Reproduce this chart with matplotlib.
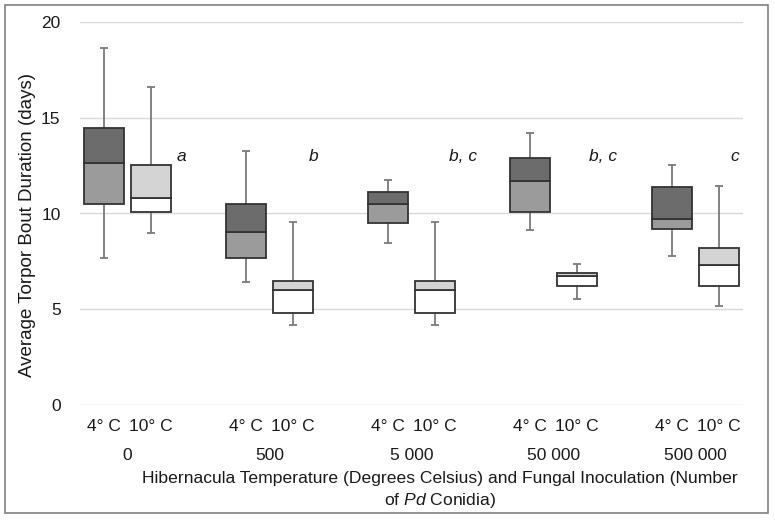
import matplotlib.pyplot as plt
from matplotlib.patches import Rectangle
import matplotlib.transforms as mtransforms

plt.rcParams["font.family"] = ["Liberation Sans", "DejaVu Sans"]
plt.rcParams["mathtext.fontset"] = "custom"
plt.rcParams["mathtext.rm"] = "Liberation Sans"
plt.rcParams["mathtext.it"] = "Liberation Sans:italic"

groups = ["0", "500", "5 000", "50 000", "500 000"]
temps = ["4° C", "10° C"]
letters = ["a", "b", "b, c", "b, c", "c"]

# five-number summaries per group: (whisker low, Q1, median, Q3, whisker high)
cold_4c = [
    (7.67, 10.48, 12.64, 14.48, 18.66),
    (6.40, 7.70, 9.05, 10.52, 13.28),
    (8.44, 9.48, 10.48, 11.11, 11.73),
    (9.13, 10.10, 11.70, 12.90, 14.18),
    (7.76, 9.18, 9.72, 11.39, 12.54),
]
warm_10c = [
    (8.97, 10.09, 10.82, 12.54, 16.61),
    (4.20, 4.83, 5.99, 6.46, 9.55),
    (4.20, 4.83, 5.99, 6.46, 9.55),
    (5.56, 6.23, 6.73, 6.88, 7.34),
    (5.19, 6.20, 7.33, 8.18, 11.44),
]

fig = plt.figure(figsize=(7.75, 5.2), dpi=100)
ax = fig.add_axes([80 / 775, 115 / 520, 663 / 775, 383 / 520])

offset = 0.165
width = 0.278
cap = 0.06
styles = [
    (cold_4c, -offset, "#9b9b9b", "#6c6c6c"),
    (warm_10c, offset, "#ffffff", "#d4d4d4"),
]

ticks, tick_labels = [], []
for series, dx, low_col, high_col in styles:
    for i, (wlo, q1, med, q3, whi) in enumerate(series):
        x = i + dx
        ax.vlines(x, wlo, q1, color="#7a7a7a", lw=1.3, zorder=2)
        ax.vlines(x, q3, whi, color="#7a7a7a", lw=1.3, zorder=2)
        ax.hlines([wlo, whi], x - cap / 2, x + cap / 2, color="#7a7a7a",
                  lw=1.3, zorder=2)
        ax.bar(x, med - q1, bottom=q1, width=width, color=low_col,
               edgecolor="#333333", linewidth=1.3, zorder=3)
        ax.bar(x, q3 - med, bottom=med, width=width, color=high_col,
               edgecolor="#333333", linewidth=1.3, zorder=3)

for i in range(len(groups)):
    ticks += [i - offset, i + offset]
    tick_labels += temps

ax.set_xlim(-0.335, 4.335)
ax.set_ylim(0, 20)
ax.set_yticks([0, 5, 10, 15, 20])
ax.set_xticks(ticks)
ax.set_xticklabels(tick_labels)
ax.tick_params(length=0, labelsize=12.5, colors="#1a1a1a")
ax.tick_params(axis="x", pad=10)
ax.tick_params(axis="y", pad=14)
ax.yaxis.grid(True, color="#d9d9d9", lw=1)
ax.set_axisbelow(True)
for s in ax.spines.values():
    s.set_visible(False)

ax.set_ylabel("Average Torpor Bout Duration (days)", fontsize=13.5,
              color="#1a1a1a")
ax.yaxis.set_label_coords(-44 / 663, 0.47)

# group names under temperature labels
trans = mtransforms.blended_transform_factory(ax.transData, ax.transAxes)
for i, g in enumerate(groups):
    ax.text(i, -0.131, g, transform=trans, ha="center", va="center",
            fontsize=12.5, color="#1a1a1a")

# significance letters
letter_dx = [0.38, 0.31, 0.36, 0.35, 0.28]
for i, lab in enumerate(letters):
    ax.text(i + letter_dx[i], 13.0, lab, ha="center", va="center",
            fontsize=12.5, style="italic", color="#1a1a1a")

fig.text(440 / 775, 1 - 478 / 520,
         "Hibernacula Temperature (Degrees Celsius) and Fungal Inoculation (Number",
         ha="center", va="center", fontsize=12.6, color="#1a1a1a")
fig.text(440 / 775, 1 - 500 / 520, r"of $\mathit{Pd}$ Conidia)",
         ha="center", va="center", fontsize=12.6, color="#1a1a1a")

fig.patches.append(Rectangle((5 / 775, 7 / 520), 763 / 775, 508 / 520,
                             transform=fig.transFigure, fill=False,
                             edgecolor="#808080", lw=1.2))

fig.savefig("out.png", dpi=100)
